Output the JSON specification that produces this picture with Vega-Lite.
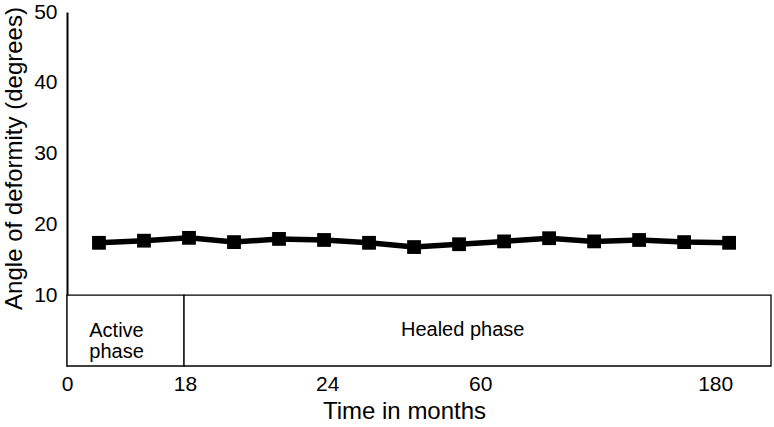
{
  "$schema": "https://vega.github.io/schema/vega-lite/v6.json",
  "width": 704,
  "height": 354,
  "autosize": {"type": "none"},
  "padding": {"left": 67, "top": 12, "right": 3, "bottom": 61},
  "background": "white",
  "config": {
    "view": {"stroke": null},
    "font": "Liberation Sans"
  },
  "datasets": {
    "series": [
      {"pos": 1, "angle": 17.4},
      {"pos": 2, "angle": 17.7},
      {"pos": 3, "angle": 18.1},
      {"pos": 4, "angle": 17.5},
      {"pos": 5, "angle": 17.95},
      {"pos": 6, "angle": 17.8},
      {"pos": 7, "angle": 17.4},
      {"pos": 8, "angle": 16.8},
      {"pos": 9, "angle": 17.2},
      {"pos": 10, "angle": 17.6},
      {"pos": 11, "angle": 18.05},
      {"pos": 12, "angle": 17.6},
      {"pos": 13, "angle": 17.8},
      {"pos": 14, "angle": 17.5},
      {"pos": 15, "angle": 17.4}
    ],
    "phases": [
      {"start": 0.29, "end": 2.89, "lo": 0, "hi": 10},
      {"start": 2.89, "end": 15.93, "lo": 0, "hi": 10}
    ],
    "labels": [
      {"pos": 1.39, "y": 4.95, "text": ["Active", "phase"]},
      {"pos": 9.08, "y": 5.1, "text": ["Healed phase"]}
    ]
  },
  "layer": [
    {
      "data": {"name": "phases"},
      "mark": {"type": "rect", "fill": "white", "stroke": "black", "strokeWidth": 1.3},
      "encoding": {
        "x": {
          "field": "start",
          "type": "quantitative",
          "scale": {"domain": [0.29, 15.93], "nice": false, "zero": false},
          "axis": {
            "title": "Time in months",
            "titleFontSize": 24,
            "titleFontWeight": "normal",
            "titleColor": "black",
            "titleX": 337,
            "titlePadding": 5,
            "values": [0.29, 2.91, 6.07, 9.47, 14.69],
            "labelExpr": "datum.value < 1 ? '0' : datum.value < 3 ? '18' : datum.value < 7 ? '24' : datum.value < 10 ? '60' : '180'",
            "labelFontSize": 21,
            "labelColor": "black",
            "labelPadding": 7,
            "labelFlush": false,
            "ticks": false,
            "domain": false,
            "grid": false
          }
        },
        "x2": {"field": "end"},
        "y": {
          "field": "lo",
          "type": "quantitative",
          "scale": {"domain": [0, 50], "nice": false},
          "axis": {
            "title": "Angle of deformity (degrees)",
            "titleFontSize": 24,
            "titleFontWeight": "normal",
            "titleColor": "black",
            "titleX": -53,
            "titleY": 146,
            "titleBaseline": "middle",
            "values": [10, 20, 30, 40, 50],
            "labelFontSize": 21,
            "labelColor": "black",
            "labelPadding": 10,
            "ticks": false,
            "domainColor": "black",
            "domainWidth": 2,
            "grid": false
          }
        },
        "y2": {"field": "hi"}
      }
    },
    {
      "data": {"name": "series"},
      "mark": {"type": "line", "color": "black", "strokeWidth": 5.5},
      "encoding": {
        "x": {"field": "pos", "type": "quantitative"},
        "y": {"field": "angle", "type": "quantitative"}
      }
    },
    {
      "data": {"name": "series"},
      "mark": {"type": "point", "shape": "square", "filled": true, "color": "black", "size": 190, "opacity": 1},
      "encoding": {
        "x": {"field": "pos", "type": "quantitative"},
        "y": {"field": "angle", "type": "quantitative"}
      }
    },
    {
      "data": {"name": "labels"},
      "mark": {"type": "text", "fontSize": 20, "color": "black", "baseline": "middle", "align": "center", "lineHeight": 21},
      "encoding": {
        "x": {"field": "pos", "type": "quantitative"},
        "y": {"field": "y", "type": "quantitative"},
        "text": {"field": "text"}
      }
    }
  ]
}
